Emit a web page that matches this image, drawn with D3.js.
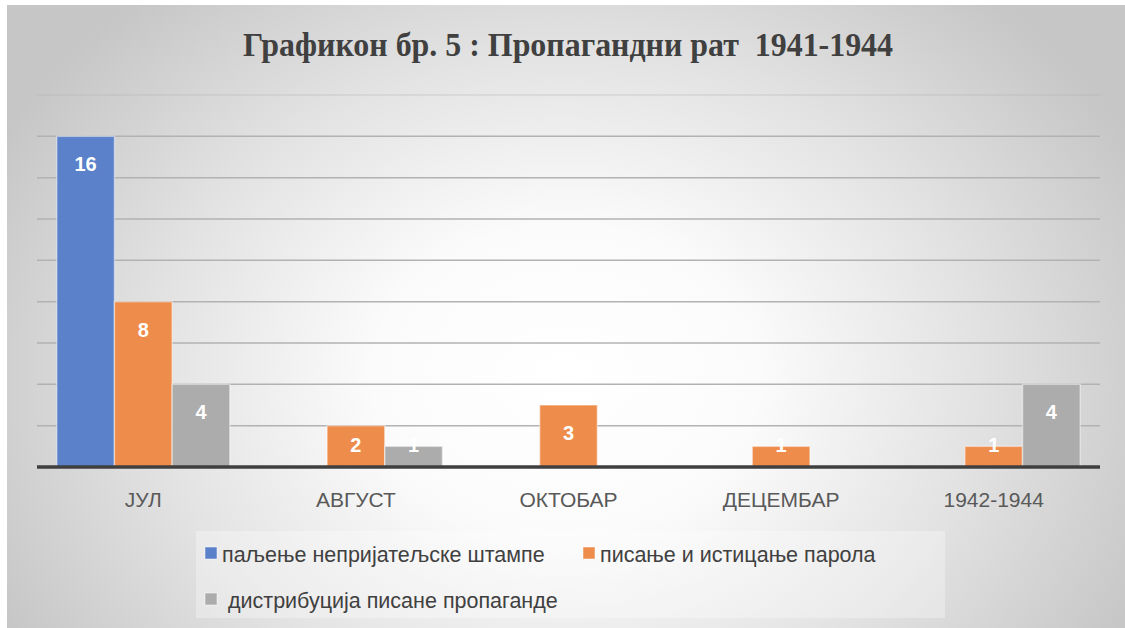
<!DOCTYPE html>
<html>
<head>
<meta charset="utf-8">
<script src="https://cdn.jsdelivr.net/npm/d3@7"></script>
<style>
  body { margin: 0; background: #fff; }
  svg { display: block; }
  text { white-space: pre; }
</style>
</head>
<body>
<svg id="chart" width="1125" height="628"></svg>
<script>
const title = "Графикон бр. 5 : Пропагандни рат  1941-1944";
const categories = ["ЈУЛ", "АВГУСТ", "ОКТОБАР", "ДЕЦЕМБАР", "1942-1944"];
const seriesNames = ["паљење непријатељске штампе", "писање и истицање парола", " дистрибуција писане пропаганде"];
const burning = [16, 0, 0, 0, 0];
const slogans = [8, 2, 3, 1, 1];
const distribution = [4, 1, 0, 0, 4];
const yTicks = [0, 2, 4, 6, 8, 10, 12, 14, 16, 18];
const colors = ["#5a81c9", "#ee8c4c", "#acacac"];

const svg = d3.select("#chart");
const W = 1125, H = 628;

// background with a soft radial glow
const defs = svg.append("defs");
const grad = defs.append("radialGradient").attr("id", "bg")
  .attr("gradientUnits", "userSpaceOnUse")
  .attr("cx", 565).attr("cy", 380).attr("r", 640)
  .attr("gradientTransform", "translate(565,380) scale(1,0.8) translate(-565,-380)");
grad.append("stop").attr("offset", "0%").attr("stop-color", "#ffffff");
grad.append("stop").attr("offset", "30%").attr("stop-color", "#fbfbfb");
grad.append("stop").attr("offset", "65%").attr("stop-color", "#e2e2e2");
grad.append("stop").attr("offset", "100%").attr("stop-color", "#c6c6c6");
svg.append("rect").attr("x", 7).attr("y", 5).attr("width", W - 7).attr("height", H - 5)
  .attr("fill", "url(#bg)");

svg.append("text")
  .attr("x", 568).attr("y", 56)
  .attr("text-anchor", "middle")
  .attr("font-family", "Liberation Serif, Times New Roman, serif")
  .attr("font-weight", "bold").attr("font-size", 34)
  .attr("fill", "#404040")
  .attr("textLength", 650).attr("lengthAdjust", "spacingAndGlyphs")
  .text(title);

const plot = { left: 37, right: 1100, top: 95, bottom: 467 };

const x = d3.scaleBand().domain(categories)
  .range([plot.left, plot.right])
  .paddingInner(0.186).paddingOuter(0.093);
const xs = d3.scaleBand().domain(d3.range(3)).range([0, x.bandwidth()]);
const y = d3.scaleLinear().domain([0, 18]).range([plot.bottom, plot.top]);

// gridlines
svg.append("g").selectAll("line").data(yTicks.filter(d => d > 0)).join("line")
  .attr("x1", plot.left).attr("x2", plot.right)
  .attr("y1", d => y(d)).attr("y2", d => y(d))
  .attr("stroke", "#b2b2b2").attr("stroke-width", 1.5)
  .attr("stroke-opacity", d => d === 18 ? 0.35 : 1);

const series = [burning, slogans, distribution];
const rows = [];
series.forEach((vals, s) => vals.forEach((v, i) => {
  if (v > 0) rows.push({ s, cat: categories[i], v });
}));

svg.append("g").selectAll("rect").data(rows).join("rect")
  .attr("x", d => x(d.cat) + xs(d.s))
  .attr("y", d => y(d.v))
  .attr("width", xs.bandwidth())
  .attr("height", d => y(0) - y(d.v))
  .attr("fill", d => colors[d.s])
  .attr("stroke", "#ffffff").attr("stroke-opacity", 0.45).attr("stroke-width", 1.5);

// data labels inside end
svg.append("g").selectAll("text").data(rows).join("text")
  .attr("x", d => x(d.cat) + xs(d.s) + xs.bandwidth() / 2)
  .attr("y", d => Math.min(y(d.v) + 28, y(0) - 22) + 7)
  .attr("text-anchor", "middle")
  .attr("font-family", "Liberation Sans, Arial, sans-serif")
  .attr("font-weight", "bold").attr("font-size", 20)
  .attr("fill", "#ffffff")
  .text(d => d.v);

// axis baseline
svg.append("line")
  .attr("x1", plot.left).attr("x2", plot.right)
  .attr("y1", y(0)).attr("y2", y(0))
  .attr("stroke", "#3f3f3f").attr("stroke-width", 3.5);

const xAxis = svg.append("g").attr("transform", `translate(0,${y(0)})`)
  .call(d3.axisBottom(x).tickSize(0).tickPadding(0));
xAxis.select(".domain").remove();
xAxis.selectAll("text")
  .attr("y", 40).attr("dy", 0)
  .attr("font-family", "Liberation Sans, Arial, sans-serif")
  .attr("font-size", 21).attr("fill", "#595959");

// legend
const legend = svg.append("g");
legend.append("rect").attr("x", 196).attr("y", 531).attr("width", 749).attr("height", 87)
  .attr("fill", "#ffffff").attr("fill-opacity", 0.3);
const legendPos = [[205, 562], [583, 562], [205, 608]];
const items = legend.selectAll("g").data(seriesNames).join("g")
  .attr("transform", (d, i) => `translate(${legendPos[i][0]},${legendPos[i][1]})`);
items.append("rect").attr("x", 0).attr("y", -15).attr("width", 12).attr("height", 12)
  .attr("fill", (d, i) => colors[i])
  .attr("stroke", "#ffffff").attr("stroke-opacity", 0.5);
items.append("text").attr("x", 17).attr("y", 0)
  .attr("font-family", "Liberation Sans, Arial, sans-serif")
  .attr("font-size", 21.5).attr("fill", "#404040")
  .text(d => d);
</script>
</body>
</html>
